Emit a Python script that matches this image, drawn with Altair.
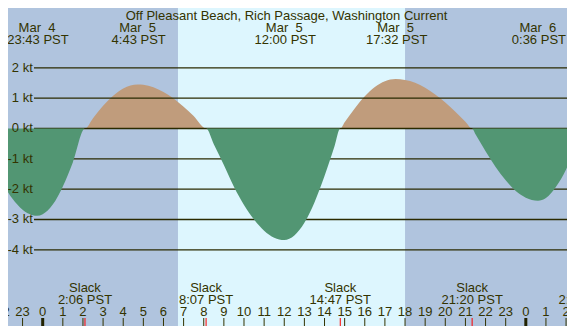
import altair as alt
import pandas as pd

# ---- data (hours from Mar 5 00:00 PST) ----
curve_hours = [-2.2, -2.0, -1.5, -1.0, -0.5, -0.28, 0.0, 0.5, 1.0, 1.5, 2.1,
               2.5, 3.0, 3.5, 4.0, 4.72, 5.0, 5.5, 6.0, 6.5, 7.0, 7.5, 8.12,
               8.5, 9.0, 9.5, 10.0, 10.5, 11.0, 11.5, 12.0, 12.5, 13.0, 13.5, 14.0, 14.5, 14.78,
               15.0, 15.5, 16.0, 16.5, 17.0, 17.53, 18.0, 18.5, 19.0, 19.5, 20.0, 20.5, 21.0, 21.33,
               21.5, 22.0, 22.5, 23.0, 23.5, 24.0, 24.6, 25.0, 25.5, 26.0, 26.5]
curve_knots = [-1.55, -1.79, -2.32, -2.68, -2.86, -2.88, -2.83, -2.51, -1.91, -1.11, 0.0,
               0.34, 0.75, 1.08, 1.32, 1.45, 1.44, 1.36, 1.20, 0.99, 0.72, 0.41, 0.0,
               -0.52, -1.20, -1.92, -2.52, -3.00, -3.37, -3.60, -3.68, -3.53, -3.11, -2.44, -1.57, -0.58, 0.0,
               0.21, 0.66, 1.06, 1.37, 1.56, 1.63, 1.60, 1.51, 1.34, 1.12, 0.86, 0.55, 0.22, 0.0,
               -0.19, -0.75, -1.27, -1.71, -2.06, -2.28, -2.38, -2.29, -1.92, -1.35, -0.55]

sunrise = [6.72]
sunset = [18.0]

event_hours = [-0.283, 4.717, 12.0, 17.533, 24.6]
event_dates = ["Mar\u00a0\u00a04", "Mar\u00a0\u00a05", "Mar\u00a0\u00a05", "Mar\u00a0\u00a05", "Mar\u00a0\u00a06"]
event_times = ["23:43 PST", "4:43 PST", "12:00 PST", "17:32 PST", "0:36 PST"]

slack_hours = [2.1, 8.117, 14.783, 21.333, 26.967]
slack_times = ["2:06 PST", "8:07 PST", "14:47 PST", "21:20 PST", "2:58 PST"]

tick_hours = list(range(-2, 27))
tick_labels = ["22", "23", "0", "1", "2", "3", "4", "5", "6", "7", "8", "9", "10", "11",
               "12", "13", "14", "15", "16", "17", "18", "19", "20", "21", "22", "23",
               "0", "1", "2"]

grid_kt = [2, 1, 0, -1, -2, -3, -4]
grid_labels = ["2 kt", "1 kt", "0 kt", "-1 kt", "-2 kt", "-3 kt", "-4 kt"]

title_text = "Off Pleasant Beach, Rich Passage, Washington Current"

# ---- styling ----
W, H = 559, 318
FONT = "Liberation Sans"
TXT = "#333300"
NIGHT = "#b0c4de"
DAY = "#ddf6fe"
EBB = "#529673"
FLOOD = "#c09c7c"

xs = alt.Scale(domain=[-1.7238, 26.046], nice=False, zero=False)
ys = alt.Scale(domain=[-6.512, 3.973], nice=False, zero=False)

curve = pd.DataFrame({"h": curve_hours, "kt": curve_knots})
sun = pd.DataFrame({"rise": sunrise, "set": sunset})
events = pd.DataFrame({"h": event_hours, "date": event_dates, "time": event_times})
slacks = pd.DataFrame({"h": slack_hours, "time": slack_times})
ticks = pd.DataFrame({"h": tick_hours, "label": tick_labels})
ticks["major"] = ticks["h"] % 24 == 0
grid = pd.DataFrame({"kt": grid_kt, "label": grid_labels})

txt = dict(font=FONT, fontSize=13, color=TXT)

day = alt.Chart(sun).mark_rect(color=DAY).encode(
    x=alt.X("rise:Q", scale=xs, axis=None), x2="set:Q",
    y=alt.value(0), y2=alt.value(H))

flood = alt.Chart(curve).transform_calculate(
    v="max(datum.kt, 0)", zero="0").mark_area(
    color=FLOOD, interpolate="monotone", clip=True).encode(
    x=alt.X("h:Q", scale=xs, axis=None),
    y=alt.Y("v:Q", scale=ys, axis=None), y2="zero:Q")

ebb = alt.Chart(curve).transform_calculate(
    v="min(datum.kt, 0)", zero="0").mark_area(
    color=EBB, interpolate="monotone", clip=True).encode(
    x=alt.X("h:Q", scale=xs, axis=None),
    y=alt.Y("v:Q", scale=ys, axis=None), y2="zero:Q")

gridlines = alt.Chart(grid).mark_rule(color="#2a2a00", strokeWidth=1.3).encode(
    y=alt.Y("kt:Q", scale=ys, axis=None),
    x=alt.value(26), x2=alt.value(W))

gridtext = alt.Chart(grid).mark_text(align="right", baseline="middle", **txt).encode(
    y=alt.Y("kt:Q", scale=ys, axis=None), x=alt.value(24.8), text="label:N")

title = alt.Chart(pd.DataFrame({"t": [title_text]})).mark_text(
    align="center", baseline="alphabetic", **txt).encode(
    x=alt.value(278.5), y=alt.value(11.8), text="t:N")

ev_date = alt.Chart(events).mark_text(align="center", baseline="alphabetic", **txt).encode(
    x=alt.X("h:Q", scale=xs, axis=None), y=alt.value(24.4), text="date:N")
ev_time = alt.Chart(events).mark_text(align="center", baseline="alphabetic", dx=1, **txt).encode(
    x=alt.X("h:Q", scale=xs, axis=None), y=alt.value(36.0), text="time:N")

slack_word = alt.Chart(slacks).transform_calculate(w="'Slack'").mark_text(
    align="center", baseline="alphabetic", **txt).encode(
    x=alt.X("h:Q", scale=xs, axis=None), y=alt.value(284.4), text="w:N")
slack_time = alt.Chart(slacks).mark_text(align="center", baseline="alphabetic", **txt).encode(
    x=alt.X("h:Q", scale=xs, axis=None), y=alt.value(296.1), text="time:N")

hour_text = alt.Chart(ticks).mark_text(align="center", baseline="alphabetic", **txt).encode(
    x=alt.X("h:Q", scale=xs, axis=None), y=alt.value(308.4), text="label:N")

minor_ticks = alt.Chart(ticks).transform_filter("!datum.major").mark_rule(
    color=TXT, strokeWidth=1).encode(
    x=alt.X("h:Q", scale=xs, axis=None), y=alt.value(310), y2=alt.value(H))
major_ticks = alt.Chart(ticks).transform_filter("datum.major").mark_rule(
    color="#222200", strokeWidth=3).encode(
    x=alt.X("h:Q", scale=xs, axis=None), y=alt.value(310), y2=alt.value(H))
slack_ticks = alt.Chart(slacks).mark_rule(color="#ff0000", strokeWidth=1).encode(
    x=alt.X("h:Q", scale=xs, axis=None), y=alt.value(310), y2=alt.value(H))

chart = alt.layer(
    day, flood, gridlines, ebb, gridtext, title, ev_date, ev_time,
    slack_word, slack_time, hour_text, minor_ticks, major_ticks, slack_ticks
).properties(
    width=W, height=H, padding=0,
    autosize=alt.AutoSizeParams(type="none"),
    background=NIGHT,
).configure_view(stroke=None)

chart.save("out.html", embed_options={"renderer": "svg", "actions": False})
